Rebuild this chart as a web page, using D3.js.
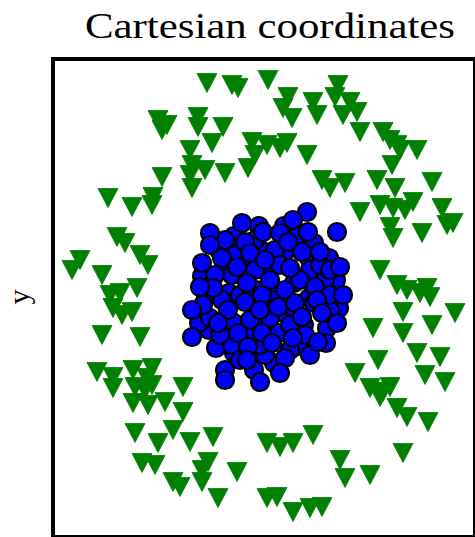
<!DOCTYPE html>
<html>
<head>
<meta charset="utf-8">
<script src="https://cdn.jsdelivr.net/npm/d3@7"></script>
<style>
  html, body { margin: 0; padding: 0; background: #fff; }
  svg { display: block; }
</style>
</head>
<body>
<div id="chart"></div>
<script>
// Outer ring class (green triangles): [x, y]
const ringPoints = [
  [-0.57, 2.15], [-0.32, 2.13], [-0.26, 2.10], [0.04, 2.18], [-1.06, 1.78], [-0.97, 1.73],
  [-1.02, 1.68], [-0.66, 1.81], [-0.66, 1.71], [-0.41, 1.71], [-0.52, 1.55], [-0.74, 1.48],
  [-0.72, 1.33], [-0.74, 1.23], [-0.72, 1.10], [-0.59, 1.28], [-0.39, 1.25], [-0.12, 1.56],
  [-0.09, 1.43], [-0.16, 1.30], [-1.02, 1.21], [-1.56, 1.00], [-1.32, 0.91], [-1.11, 1.01],
  [-1.12, 0.93], [0.24, 2.01], [0.19, 1.90], [0.28, 1.80], [0.49, 1.96], [0.53, 1.83],
  [0.74, 2.13], [0.71, 2.01], [0.86, 1.96], [0.79, 1.83], [0.93, 1.86], [0.96, 1.66],
  [1.19, 1.66], [1.26, 1.58], [1.33, 1.53], [1.36, 1.48], [1.53, 1.48], [1.28, 1.33],
  [0.03, 1.53], [0.16, 1.50], [0.23, 1.55], [0.43, 1.43], [0.58, 1.18], [0.66, 1.10],
  [0.81, 1.15], [1.13, 1.18], [1.31, 1.10], [1.68, 1.16], [1.16, 0.93], [1.29, 0.90],
  [1.49, 0.96], [1.78, 0.90], [0.96, 0.86], [1.41, 0.88], [1.83, 0.73], [1.89, 0.75],
  [1.26, 0.71], [1.29, 0.60], [1.58, 0.65], [1.16, 0.28], [1.33, 0.13], [1.43, 0.08],
  [1.56, 0.05], [1.63, 0.10], [1.66, 0.01], [1.39, -0.14], [1.91, -0.15], [1.09, -0.30],
  [1.39, -0.35], [1.68, -0.27], [1.53, -0.55], [1.76, -0.59], [1.14, -0.62], [0.91, -0.75],
  [1.61, -0.77], [1.81, -0.84], [1.06, -0.90], [1.26, -0.89], [1.16, -0.99], [1.19, -0.94],
  [1.33, -1.10], [1.43, -1.19], [1.64, -1.24], [0.49, -1.37], [0.03, -1.45], [0.16, -1.49],
  [0.29, -1.45], [0.76, -1.62], [0.81, -1.80], [1.06, -1.77], [1.39, -1.55], [0.03, -2.00],
  [0.13, -1.99], [0.29, -2.14], [0.46, -2.10], [0.58, -2.09], [-1.51, -0.90], [-1.29, -0.89],
  [-1.19, -0.92], [-1.12, -0.87], [-0.81, -0.89], [-1.31, -1.05], [-1.16, -1.07], [-0.99, -1.04],
  [-0.81, -1.14], [-1.29, -1.35], [-0.91, -1.32], [-1.06, -1.45], [-0.74, -1.44], [-0.51, -1.39],
  [-1.22, -1.65], [-1.09, -1.67], [-0.91, -1.84], [-0.84, -1.89], [-0.62, -1.84], [-0.56, -1.64],
  [-0.62, -1.72], [-0.46, -2.00], [-0.27, -1.74], [-1.47, 0.61], [-1.39, 0.55], [-1.24, 0.43],
  [-1.16, 0.33], [-1.84, 0.38], [-1.92, 0.28], [-1.62, 0.23], [-1.54, 0.03], [-1.44, 0.05],
  [-1.27, 0.10], [-1.51, -0.10], [-1.42, -0.17], [-1.32, -0.14], [-1.62, -0.37], [-1.24, -0.39],
  [-1.67, -0.74], [-1.51, -0.79], [-1.31, -0.72], [-1.12, -0.70], [-1.17, -0.80]
];

// Inner cluster class (blue circles): [x, y] — deepest layer first
const clusterPoints = [
  [-0.45, 0.48], [-0.30, 0.62], [-0.05, 0.72], [0.20, 0.72], [0.50, 0.55], [0.65, 0.40],
  [0.72, 0.18], [0.45, 0.00], [0.20, -0.15], [-0.08, 0.08], [-0.35, 0.05], [-0.58, 0.00],
  [-0.62, 0.22], [-0.55, -0.32], [-0.30, -0.25], [-0.10, -0.35], [0.15, -0.35], [0.40, -0.27],
  [0.63, -0.30], [0.50, -0.05], [0.30, 0.15], [0.05, 0.30], [-0.20, 0.35], [-0.40, 0.30],
  [0.35, -0.48], [0.10, -0.65], [-0.10, -0.72], [-0.30, -0.55], [-0.48, -0.50], [0.62, -0.45],
  [0.75, -0.10], [0.45, 0.40], [0.20, 0.45], [-0.05, 0.50], [-0.65, -0.25], [0.00, -0.25],
  [0.30, -0.10], [0.10, 0.05],
  [-0.39, 0.58], [-0.32, 0.23], [-0.09, 0.28], [0.11, 0.48], [0.34, 0.63], [0.46, 0.28],
  [0.61, 0.18], [0.06, 0.18], [-0.24, 0.03], [-0.42, -0.02], [-0.54, -0.20], [-0.32, -0.47],
  [-0.14, -0.22], [0.06, -0.20], [0.26, -0.27], [0.41, -0.37], [0.46, -0.57], [0.01, -0.57],
  [0.36, 0.18], [0.16, 0.33], [-0.49, 0.23], [0.66, -0.12], [-0.09, 0.58], [-0.29, 0.43],
  [0.56, 0.33], [0.11, -0.02], [0.26, -0.52], [-0.24, -0.62], [-0.04, -0.47], [-0.44, -0.37],
  [0.43, 0.86], [0.29, 0.78], [0.73, 0.66], [0.44, 0.66], [-0.22, 0.75], [-0.01, 0.66],
  [-0.54, 0.65], [-0.54, 0.53], [-0.19, 0.56], [0.16, 0.65], [0.24, 0.56], [0.38, 0.46],
  [0.56, 0.46], [-0.42, 0.40], [-0.62, 0.35], [-0.14, 0.45], [0.01, 0.38], [0.26, 0.30],
  [0.66, 0.28], [0.76, 0.31], [-0.27, 0.31], [-0.51, 0.10], [-0.64, 0.11], [-0.17, 0.15],
  [-0.02, 0.03], [0.21, 0.08], [0.51, 0.11], [0.66, 0.03], [0.79, 0.03], [0.53, -0.02],
  [-0.61, -0.07], [-0.72, -0.12], [-0.36, -0.12], [-0.19, -0.04], [-0.04, -0.12], [0.14, -0.09],
  [0.31, -0.05], [0.38, -0.19], [0.58, -0.15], [0.73, -0.25], [-0.72, -0.39], [-0.46, -0.25],
  [-0.26, -0.35], [-0.02, -0.35], [0.08, -0.45], [0.29, -0.40], [0.54, -0.44], [-0.16, -0.49],
  [-0.17, -0.62], [0.21, -0.60], [-0.39, -0.72], [-0.39, -0.82], [-0.04, -0.84], [0.16, -0.75]
];

const titleText = "Cartesian coordinates";
const yLabelText = "y";

const width = 475, height = 537;
// Plot frame (its right and bottom edges sit at the page edge)
const frame = { left: 53, top: 59, right: 475, bottom: 537 };
const inner = { left: 55, top: 61, right: 473, bottom: 535 };

const x = d3.scaleLinear().domain([-2.09, 2.09]).range([inner.left, inner.right]);
const y = d3.scaleLinear().domain([-2.37, 2.37]).range([inner.bottom, inner.top]);

const svg = d3.select("#chart").append("svg")
  .attr("width", width).attr("height", height);

// Title
svg.append("text")
  .attr("x", 270).attr("y", 38)
  .attr("text-anchor", "middle")
  .attr("font-family", "'Liberation Serif', 'DejaVu Serif', serif")
  .attr("font-size", 36)
  .attr("textLength", 370)
  .attr("lengthAdjust", "spacingAndGlyphs")
  .attr("fill", "#000")
  .text(titleText);

// y axis label
svg.append("text")
  .attr("transform", "translate(29,297) rotate(-90)")
  .attr("text-anchor", "middle")
  .attr("font-family", "'Liberation Serif', 'DejaVu Serif', serif")
  .attr("font-size", 30)
  .attr("fill", "#000")
  .text(yLabelText);

const plot = svg.append("g");

// Downward-pointing triangle marker
const triW = 20, triH = 19;
const triPath = `M${-triW / 2},${-triH / 2}L${triW / 2},${-triH / 2}L0,${triH / 2}Z`;

plot.selectAll("path.ring")
  .data(ringPoints)
  .join("path")
  .attr("class", "ring")
  .attr("d", triPath)
  .attr("transform", d => `translate(${x(d[0])},${y(d[1])})`)
  .attr("fill", "#008000")
  .attr("stroke", "#008000")
  .attr("stroke-width", 0.8)
  .attr("stroke-linejoin", "round");

plot.selectAll("circle.cluster")
  .data(clusterPoints)
  .join("circle")
  .attr("class", "cluster")
  .attr("cx", d => x(d[0]))
  .attr("cy", d => y(d[1]))
  .attr("r", 9)
  .attr("fill", "#0000ff")
  .attr("stroke", "#000")
  .attr("stroke-width", 2.2);

// Frame
svg.append("rect")
  .attr("x", frame.left).attr("y", frame.top)
  .attr("width", frame.right - frame.left)
  .attr("height", frame.bottom - frame.top)
  .attr("fill", "none")
  .attr("stroke", "#000")
  .attr("stroke-width", 4);
</script>
</body>
</html>
